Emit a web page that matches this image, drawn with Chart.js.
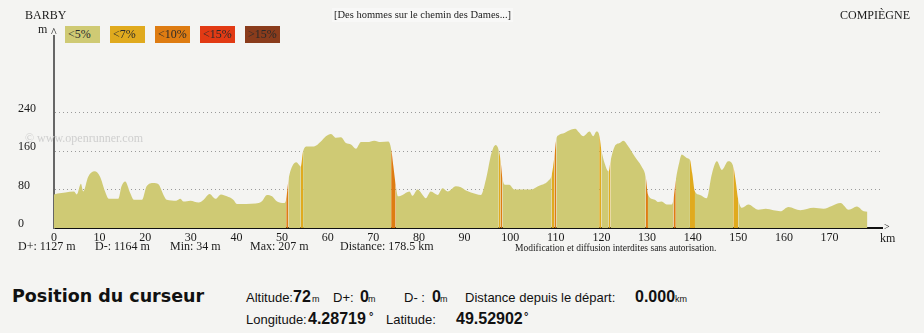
<!DOCTYPE html>
<html>
<head>
<meta charset="utf-8">
<script src="https://cdn.jsdelivr.net/npm/chart.js@4"></script>
<style>
  body { margin: 0; background: #f4f4f2; }
  #page { position: relative; width: 924px; height: 333px; overflow: hidden; font-family: "Liberation Serif", serif; color: #1a1a1a; }
  .t { position: absolute; white-space: nowrap; font-size: 12px; line-height: 14px; }
  .grade { position: absolute; top: 26px; width: 35px; height: 17px; line-height: 17px; font-size: 12px; padding-left: 3px; box-sizing: border-box; color: #2a2a2a; }
  .row { position: absolute; left: 246px; white-space: nowrap; font-family: "Liberation Sans", Arial, sans-serif; font-size: 13px; line-height: 18px; color: #111; }
  .row span { display: inline-block; }
  .row b { font-size: 16px; }
  .row small { font-size: 9px; }
  .row i { font-style: normal; font-weight: bold; font-size: 11px; vertical-align: 4px; }
</style>
</head>
<body>
<div id="page">
  <canvas id="profile" width="924" height="260" style="position:absolute;left:0;top:0"></canvas>

  <div class="t" style="left:25px;top:8px">BARBY</div>
  <div class="t" style="left:332px;top:8px;font-size:10.5px;background:#f8f8f7;padding:0 2px">[Des hommes sur le chemin des Dames...]</div>
  <div class="t" style="left:840px;top:8px">COMPIÈGNE</div>
  <div class="t" style="left:38px;top:22px">m</div>
  <div class="t" style="left:51px;top:25px">^</div>
  <div class="t" style="left:884px;top:220px;font-size:10px">&gt;</div>
  <div class="t" style="left:880px;top:231px">km</div>
  <div class="t" style="left:25px;top:131px;color:#cfcfcf">© www.openrunner.com</div>
  <div id="grades"></div>

  <div class="t" style="left:18px;top:239px">D+: 1127 m</div>
  <div class="t" style="left:95px;top:239px">D-: 1164 m</div>
  <div class="t" style="left:170px;top:239px">Min: 34 m</div>
  <div class="t" style="left:250px;top:239px">Max: 207 m</div>
  <div class="t" style="left:340px;top:239px">Distance: 178.5 km</div>
  <div class="t" style="left:515px;top:241px;font-size:9.5px">Modification et diffusion interdites sans autorisation.</div>

  <div class="t" style="left:12px;top:285px;font-family:'DejaVu Sans',sans-serif;font-weight:bold;font-size:17.5px;line-height:22px;color:#111">Position du curseur</div>
  <div class="row" style="top:288px"><span style="width:47px">Altitude:</span><span style="width:19px"><b>72</b></span><span style="width:21px"><small>m</small></span><span style="width:27px">D+:</span><span style="width:8px"><b>0</b></span><span style="width:36px"><small>m</small></span><span style="width:28px">D- :</span><span style="width:8px"><b>0</b></span><span style="width:25px"><small>m</small></span><span style="width:170px">Distance depuis le départ:</span><span style="width:40px"><b>0.000</b></span><span><small>km</small></span></div>
  <div class="row" style="top:307px"><span style="width:62px">Longitude:</span><span style="width:61px"><b>4.28719</b></span><span style="width:17px"><i>°</i></span><span style="width:70px">Latitude:</span><span style="width:68px"><b>49.52902</b></span><span style="width:10px"><i>°</i></span></div>
</div>

<script>
// elevation profile, km from start / metres
const kmPoints = [
  0, 0.8, 2.5, 4.4, 5.0, 5.9, 6.4, 7.5, 8.9, 10.1, 11.2, 12.0, 14.1, 14.8, 15.6, 16.7, 17.5, 19.3, 20.3, 21.8,
  22.9, 24.0, 24.7, 26.8, 27.7, 28.4, 29.9, 31.7, 32.8, 34.1, 35.4, 36.6, 37.9, 39.3, 40.1, 44.2, 45.5, 46.7, 47.8, 48.9,
  50.4, 50.9, 51.4, 52.2, 53.1, 53.7, 54.1, 54.6, 55.5, 57.0, 58.5, 59.6, 60.7, 61.8, 62.9, 64.0, 65.1, 66.2, 67.3, 68.7,
  70.2, 71.6, 73.3, 73.9, 74.4, 74.9, 75.4, 76.4, 77.9, 78.6, 79.7, 80.8, 81.5, 82.6, 84.1, 85.2, 86.3, 88.1, 89.2, 90.3,
  91.4, 93.6, 94.7, 95.9, 96.8, 97.5, 97.9, 98.3, 98.8, 99.8, 100.9, 104.6, 106.1, 108.3, 109.1, 109.7, 110.1, 110.6, 111.9, 113.4,
  114.3, 115.0, 116.0, 117.4, 118.2, 118.9, 119.5, 120.0, 120.7, 121.6, 122.0, 122.9, 124.0, 124.8, 125.9, 127.3, 128.8, 129.7, 130.2, 131.7,
  132.4, 133.2, 134.3, 135.4, 135.8, 136.3, 137.1, 137.6, 138.7, 139.4, 139.9, 140.5, 141.6, 143.1, 144.2, 145.3, 146.4, 147.8, 148.9, 149.4,
  150.0, 150.8, 152.2, 154.4, 156.0, 157.7, 159.2, 161.0, 163.6, 166.5, 168.7, 170.5, 172.4, 174.2, 176.0, 177.5, 178.3
]
const altitudes = [
  70, 72, 74, 76, 70, 92, 76, 107, 118, 107, 76, 61, 61, 87, 97, 73, 59, 59, 87, 94,
  91, 69, 59, 57, 61, 55, 57, 53, 59, 71, 61, 70, 66, 59, 50, 51, 55, 69, 66, 55,
  52, 60, 100, 128, 137, 132, 128, 160, 170, 170, 180, 191, 196, 188, 189, 177, 174, 165, 179, 179,
  182, 179, 180, 165, 128, 90, 66, 69, 76, 67, 80, 69, 62, 76, 69, 83, 76, 87, 85, 78,
  74, 69, 102, 156, 173, 162, 140, 104, 90, 90, 80, 80, 87, 98, 111, 150, 185, 193, 198, 205,
  207, 200, 191, 201, 191, 201, 195, 162, 135, 118, 140, 170, 177, 182, 170, 149, 128, 107, 70, 59,
  54, 55, 49, 49, 60, 100, 138, 153, 146, 142, 114, 76, 69, 62, 112, 139, 121, 139, 128, 100,
  59, 42, 49, 38, 40, 37, 35, 44, 37, 42, 40, 46, 52, 38, 45, 35, 34
]
const xTicks = [0, 10, 20, 30, 40, 50, 60, 70, 80, 90, 100, 110, 120, 130, 140, 150, 160, 170]
const yTicks = [0, 80, 160, 240]

// slope classes (%)
const gradeLabels = ['<5%', '<7%', '<10%', '<15%', '>15%']
const gradeLimits = [5, 7, 10, 15]
const gradeColors = ['#cfca74', '#e0aa1e', '#de7c12', '#e23a14', '#8a3c1c']

const gradeBox = document.getElementById('grades')
gradeLabels.forEach((label, i) => {
  const el = document.createElement('div')
  el.className = 'grade'
  el.style.left = (65 + i * 45) + 'px'
  el.style.background = gradeColors[i]
  el.textContent = label
  gradeBox.appendChild(el)
})

function slopeColor(p0, p1) {
  const pct = Math.abs(p1.y - p0.y) / ((p1.x - p0.x) * 10)
  let i = gradeLimits.findIndex(l => pct < l)
  if (i < 0) i = gradeLimits.length
  return gradeColors[i]
}

const serif = { family: "'Liberation Serif', serif", size: 12 }

new Chart(document.getElementById('profile'), {
  type: 'line',
  data: {
    datasets: [{
      data: kmPoints.map((km, i) => ({ x: km, y: altitudes[i] })),
      fill: 'origin',
      backgroundColor: gradeColors[0],
      borderWidth: 0,
      pointRadius: 0,
      cubicInterpolationMode: 'monotone',
      segment: {
        backgroundColor: ctx => slopeColor(ctx.p0.parsed, ctx.p1.parsed),
      },
    }],
  },
  options: {
    responsive: false,
    animation: false,
    layout: { padding: { left: 18, right: 42, top: 36, bottom: 0 } },
    plugins: { legend: { display: false }, tooltip: { enabled: false } },
    scales: {
      x: {
        type: 'linear',
        min: 0,
        max: 181.5,
        afterBuildTicks: s => { s.ticks = xTicks.map(v => ({ value: v })) },
        afterFit: s => { s.height = 32 },
        grid: { display: false, drawTicks: false },
        border: { color: '#111', width: 2 },
        ticks: { color: '#1a1a1a', font: serif, padding: 3, maxRotation: 0, autoSkip: false },
      },
      y: {
        min: 0,
        max: 400,
        afterBuildTicks: s => { s.ticks = yTicks.map(v => ({ value: v })) },
        afterFit: s => { s.width = 36 },
        grid: {
          drawTicks: false,
          color: ctx => (ctx.tick && ctx.tick.value === 0 ? 'rgba(0,0,0,0)' : '#9a9a9a'),
        },
        border: { color: '#666', width: 2, dash: [1, 3] },
        ticks: { color: '#1a1a1a', font: serif, crossAlign: 'far', labelOffset: -4, padding: 0 },
      },
    },
  },
})
</script>
</body>
</html>
